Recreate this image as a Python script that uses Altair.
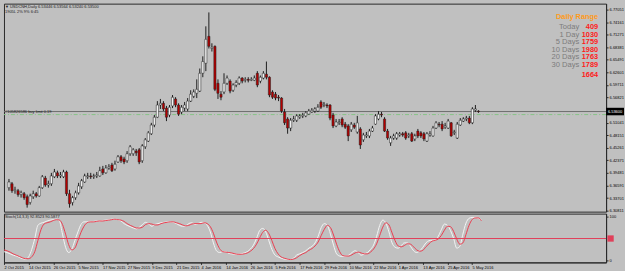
import altair as alt
import pandas as pd

# ---------------- data (USDCNH daily) ----------------
opens = [6.361, 6.370, 6.354, 6.354, 6.345, 6.347, 6.340, 6.327, 6.340, 6.347,
         6.342, 6.361, 6.383, 6.367, 6.370, 6.386, 6.395, 6.388, 6.386, 6.397,
         6.347, 6.327, 6.338, 6.349, 6.363, 6.374, 6.386, 6.388, 6.386, 6.388,
         6.388, 6.404, 6.395, 6.406, 6.413, 6.404, 6.420, 6.432, 6.427, 6.423,
         6.439, 6.439, 6.445, 6.448, 6.423, 6.455, 6.468, 6.485, 6.505, 6.523,
         6.551, 6.555, 6.544, 6.528, 6.549, 6.565, 6.551, 6.535, 6.544, 6.542,
         6.560, 6.571, 6.578, 6.583, 6.624, 6.647, 6.709, 6.681, 6.686, 6.601,
         6.576, 6.581, 6.601, 6.606, 6.585, 6.597, 6.601, 6.613, 6.608, 6.610,
         6.608, 6.608, 6.624, 6.606, 6.613, 6.622, 6.615, 6.581, 6.576, 6.569,
         6.567, 6.535, 6.519, 6.498, 6.516, 6.516, 6.523, 6.526, 6.526, 6.530,
         6.535, 6.537, 6.537, 6.558, 6.551, 6.551, 6.551, 6.528, 6.503, 6.510,
         6.519, 6.507, 6.503, 6.494, 6.505, 6.489, 6.496, 6.471, 6.480, 6.480,
         6.491, 6.507, 6.519, 6.530, 6.519, 6.491, 6.464, 6.475, 6.475, 6.482,
         6.485, 6.487, 6.480, 6.485, 6.473, 6.491, 6.487, 6.485, 6.468, 6.482,
         6.480, 6.498, 6.507, 6.507, 6.500, 6.498, 6.510, 6.487, 6.475, 6.505,
         6.514, 6.519, 6.521, 6.510, 6.539, 6.537]
highs = [6.381, 6.374, 6.363, 6.358, 6.354, 6.351, 6.345, 6.347, 6.354, 6.351,
         6.365, 6.390, 6.388, 6.377, 6.395, 6.404, 6.400, 6.397, 6.402, 6.400,
         6.356, 6.342, 6.354, 6.372, 6.381, 6.393, 6.395, 6.395, 6.393, 6.397,
         6.409, 6.411, 6.413, 6.415, 6.418, 6.423, 6.436, 6.436, 6.432, 6.445,
         6.459, 6.452, 6.450, 6.452, 6.461, 6.475, 6.491, 6.510, 6.528, 6.560,
         6.565, 6.560, 6.549, 6.551, 6.574, 6.569, 6.555, 6.551, 6.558, 6.567,
         6.585, 6.587, 6.610, 6.635, 6.663, 6.732, 6.764, 6.693, 6.688, 6.610,
         6.583, 6.624, 6.619, 6.610, 6.601, 6.608, 6.617, 6.615, 6.615, 6.615,
         6.615, 6.619, 6.629, 6.619, 6.629, 6.651, 6.617, 6.585, 6.581, 6.574,
         6.569, 6.542, 6.523, 6.521, 6.526, 6.530, 6.530, 6.533, 6.537, 6.542,
         6.544, 6.546, 6.553, 6.562, 6.558, 6.555, 6.553, 6.533, 6.519, 6.519,
         6.523, 6.512, 6.507, 6.512, 6.510, 6.526, 6.500, 6.487, 6.489, 6.496,
         6.503, 6.530, 6.537, 6.535, 6.523, 6.496, 6.480, 6.485, 6.489, 6.489,
         6.489, 6.491, 6.487, 6.489, 6.485, 6.496, 6.491, 6.489, 6.489, 6.491,
         6.503, 6.514, 6.512, 6.514, 6.510, 6.519, 6.512, 6.494, 6.512, 6.521,
         6.523, 6.526, 6.526, 6.546, 6.551, 6.539]
lows = [6.354, 6.349, 6.347, 6.340, 6.338, 6.333, 6.315, 6.322, 6.335, 6.338,
        6.340, 6.358, 6.363, 6.361, 6.365, 6.383, 6.383, 6.383, 6.383, 6.342,
        6.315, 6.320, 6.333, 6.345, 6.358, 6.372, 6.381, 6.381, 6.381, 6.383,
        6.386, 6.390, 6.393, 6.402, 6.397, 6.400, 6.418, 6.418, 6.415, 6.418,
        6.434, 6.434, 6.434, 6.415, 6.418, 6.450, 6.466, 6.482, 6.500, 6.521,
        6.542, 6.537, 6.514, 6.523, 6.544, 6.546, 6.526, 6.530, 6.537, 6.537,
        6.558, 6.567, 6.567, 6.581, 6.615, 6.629, 6.681, 6.674, 6.583, 6.565,
        6.562, 6.576, 6.597, 6.578, 6.581, 6.592, 6.597, 6.601, 6.603, 6.603,
        6.606, 6.606, 6.592, 6.601, 6.610, 6.610, 6.569, 6.565, 6.562, 6.560,
        6.533, 6.505, 6.485, 6.491, 6.512, 6.512, 6.519, 6.521, 6.523, 6.528,
        6.533, 6.533, 6.535, 6.542, 6.546, 6.544, 6.516, 6.498, 6.500, 6.505,
        6.500, 6.496, 6.468, 6.489, 6.496, 6.485, 6.450, 6.466, 6.475, 6.475,
        6.489, 6.505, 6.516, 6.523, 6.489, 6.471, 6.457, 6.471, 6.471, 6.478,
        6.478, 6.471, 6.475, 6.466, 6.468, 6.475, 6.475, 6.468, 6.466, 6.478,
        6.478, 6.496, 6.500, 6.491, 6.496, 6.496, 6.478, 6.482, 6.473, 6.503,
        6.512, 6.514, 6.507, 6.507, 6.535, 6.533]
closes = [6.374, 6.354, 6.356, 6.345, 6.349, 6.338, 6.322, 6.342, 6.347, 6.342,
          6.361, 6.386, 6.367, 6.370, 6.388, 6.397, 6.388, 6.390, 6.397, 6.347,
          6.324, 6.338, 6.349, 6.365, 6.377, 6.388, 6.388, 6.386, 6.388, 6.390,
          6.400, 6.395, 6.406, 6.409, 6.400, 6.415, 6.432, 6.423, 6.420, 6.439,
          6.455, 6.448, 6.441, 6.420, 6.457, 6.471, 6.487, 6.505, 6.523, 6.551,
          6.555, 6.542, 6.523, 6.546, 6.569, 6.551, 6.530, 6.546, 6.551, 6.560,
          6.576, 6.581, 6.587, 6.624, 6.651, 6.702, 6.686, 6.684, 6.587, 6.578,
          6.569, 6.601, 6.613, 6.583, 6.597, 6.603, 6.613, 6.606, 6.610, 6.608,
          6.610, 6.613, 6.597, 6.615, 6.624, 6.615, 6.574, 6.569, 6.567, 6.567,
          6.537, 6.510, 6.498, 6.516, 6.519, 6.526, 6.526, 6.528, 6.533, 6.537,
          6.539, 6.542, 6.546, 6.546, 6.553, 6.549, 6.521, 6.503, 6.512, 6.512,
          6.505, 6.500, 6.480, 6.507, 6.500, 6.510, 6.459, 6.482, 6.482, 6.491,
          6.498, 6.526, 6.530, 6.528, 6.491, 6.475, 6.475, 6.480, 6.485, 6.485,
          6.482, 6.475, 6.482, 6.468, 6.480, 6.480, 6.480, 6.473, 6.485, 6.485,
          6.498, 6.510, 6.505, 6.496, 6.503, 6.514, 6.480, 6.489, 6.507, 6.516,
          6.519, 6.521, 6.510, 6.542, 6.542, 6.536]

stoch_main = [20, 18, 15, 12, 10, 7, 4, 3, 8, 25,
              50, 80, 85, 87, 90, 92, 93, 94, 90, 60,
              30, 18, 25, 45, 65, 82, 88, 88, 89, 89,
              90, 90, 91, 92, 93, 94, 94, 93, 90, 84,
              80, 77, 74, 72, 76, 82, 87, 83, 78, 82,
              84, 86, 87, 88, 88, 87, 84, 80, 78, 79,
              84, 86, 82, 84, 87, 86, 80, 65, 40, 22,
              18, 20, 20, 16, 15, 14, 14, 15, 17, 20,
              26, 35, 50, 68, 73, 65, 45, 25, 12, 8,
              5, 3, 2, 2, 5, 12, 15, 18, 22, 28,
              32, 40, 55, 75, 84, 80, 60, 35, 15, 10,
              9, 10, 12, 18, 22, 18, 12, 15, 18, 25,
              35, 55, 80, 92, 85, 65, 40, 30, 28, 34,
              40, 40, 32, 22, 18, 22, 30, 40, 45, 46,
              47, 55, 70, 83, 80, 68, 50, 28, 32, 60,
              85, 96, 98, 98, 96, 92.85]
stoch_signal = [24, 22, 19, 15, 12, 9, 6, 4, 4, 8,
                20, 45, 70, 83, 86, 88, 91, 93, 92, 82,
                60, 36, 24, 28, 45, 64, 78, 86, 88, 88,
                89, 90, 90, 91, 92, 93, 94, 93, 92, 89,
                84, 80, 77, 74, 74, 76, 82, 84, 83, 81,
                81, 84, 86, 87, 88, 88, 86, 84, 81, 79,
                80, 83, 84, 84, 84, 86, 84, 77, 62, 42,
                27, 20, 19, 18, 17, 15, 14, 14, 15, 17,
                21, 27, 37, 51, 64, 69, 61, 45, 27, 15,
                8, 5, 3, 2, 3, 6, 11, 15, 18, 23,
                27, 33, 42, 57, 71, 80, 75, 58, 37, 20,
                11, 10, 10, 13, 17, 19, 17, 15, 15, 19,
                26, 38, 57, 76, 86, 81, 63, 45, 33, 31,
                34, 38, 37, 31, 24, 21, 23, 31, 38, 44,
                46, 49, 57, 69, 78, 77, 66, 49, 37, 40,
                59, 80, 93, 97, 97, 90.59]

x_tick_bars = [0, 8, 16, 24, 32, 40, 48, 56, 64, 72,
               80, 88, 96, 104, 112, 120, 128, 136, 144, 152]
x_tick_labels = ["2 Oct 2015", "14 Oct 2015", "26 Oct 2015", "5 Nov 2015", "17 Nov 2015",
                 "27 Nov 2015", "9 Dec 2015", "21 Dec 2015", "4 Jan 2016", "14 Jan 2016",
                 "26 Jan 2016", "5 Feb 2016", "17 Feb 2016", "29 Feb 2016", "10 Mar 2016",
                 "22 Mar 2016", "1 Apr 2016", "13 Apr 2016", "25 Apr 2016", "5 May 2016"]
price_ticks = [6.30811, 6.33701, 6.36591, 6.39481, 6.42371, 6.45261, 6.48151, 6.51041,
               6.56821, 6.59711, 6.62601, 6.65491, 6.68381, 6.71271, 6.74161, 6.77051]
stoch_ticks = [0, 100]
stoch_level = 50
bid_price = 6.536
buy_limit_price = 6.529

range_labels = ["Today", "1 Day", "5 Days", "10 Days", "20 Days", "30 Days"]
range_values = [409, 1030, 1759, 1980, 1763, 1789]
range_average = 1664

header_line1 = "\u25bc USDCNH,Daily  6.53446 6.53564 6.53240 6.53500"
header_line2 = "1905L    2%  9%    6:45"
order_text = "#105826586 buy limit 0.19"
stoch_title = "Stoch(14,3,3) 92.8523 90.5877"

# ---------------- frames ----------------
bars = list(range(len(closes)))
candles = pd.DataFrame({"bar": bars, "open": opens, "high": highs,
                        "low": lows, "close": closes})
candles["dir"] = ["up" if c >= o else "down" for o, c in zip(opens, closes)]
stoch = pd.DataFrame({"bar": bars, "main": stoch_main, "signal": stoch_signal})

# ---------------- styling ----------------
BG = "#c0c0c0"
FG = "#2a2a2a"
FONT = "Liberation Sans"
TINY = 4.0
W = 605
H_MAIN = 209
H_STOCH = 49

xscale = alt.Scale(domain=[0, 195.5], nice=False, zero=False)
yscale = alt.Scale(domain=[6.3058, 6.7842], nice=False, zero=False)
sscale = alt.Scale(domain=[-4.5, 106.8], nice=False, zero=False)

price_axis = alt.Axis(orient="right", values=price_ticks, format=".5f", title=None,
                      labelFontSize=TINY, labelColor="#000000", labelFont=FONT,
                      tickSize=2, tickColor=FG, domainColor=FG, labelPadding=1,
                      grid=False, labelOverlap=False, labelFlush=False)
stoch_axis = alt.Axis(orient="right", values=stoch_ticks, format="d", title=None,
                      labelFontSize=TINY, labelColor="#000000", labelFont=FONT,
                      tickSize=2, tickColor=FG, domainColor=FG, labelPadding=1,
                      grid=False, labelOverlap=False, labelFlush=False)
label_expr = "[" + ",".join("'%s'" % s for s in x_tick_labels) + "][round(datum.value/8)]"
time_axis = alt.Axis(values=x_tick_bars, labelExpr=label_expr, title=None,
                     labelAlign="left", labelFontSize=TINY, labelColor="#000000",
                     labelFont=FONT, tickSize=2, tickColor=FG, domainColor=FG,
                     labelPadding=1, grid=False, labelOverlap=False, labelFlush=False)


def note(text, x, y, **kw):
    return alt.Chart(pd.DataFrame({"t": [text]})).mark_text(font=FONT, **kw).encode(
        x=alt.value(x), y=alt.value(y), text="t:N")


# ---------------- main price panel ----------------
base = alt.Chart(candles)
wicks = base.mark_rule(color="#1e1e1e", strokeWidth=1, clip=True).encode(
    x=alt.X("bar:Q", scale=xscale, axis=None),
    y=alt.Y("low:Q", scale=yscale, axis=price_axis),
    y2="high:Q")
bodies = base.mark_bar(size=2.2, stroke="#1e1e1e", strokeWidth=0.5, clip=True).encode(
    x=alt.X("bar:Q", scale=xscale, axis=None),
    y=alt.Y("open:Q", scale=yscale, axis=price_axis),
    y2="close:Q",
    color=alt.Color("dir:N", scale=alt.Scale(domain=["up", "down"],
                                             range=["#f4f4f4", "#b40000"]), legend=None))

levels = pd.DataFrame({"p": [bid_price]})
bid_line = alt.Chart(levels).mark_rule(color="#6e6e6e", strokeWidth=1).encode(
    y=alt.Y("p:Q", scale=yscale, axis=price_axis))
order_df = pd.DataFrame({"p": [buy_limit_price], "t": [order_text]})
order_line = alt.Chart(order_df).mark_rule(color="#86c486", strokeWidth=1,
                                           strokeDash=[4, 2, 1, 2]).encode(
    y=alt.Y("p:Q", scale=yscale, axis=price_axis))
order_label = alt.Chart(order_df).mark_text(font=FONT, fontSize=TINY, align="left",
                                            baseline="middle", dy=-2.2,
                                            color="#1a1a1a").encode(
    x=alt.value(1), y=alt.Y("p:Q", scale=yscale, axis=price_axis), text="t:N")

bid_df = pd.DataFrame({"p": [bid_price], "t": ["%.5f" % bid_price]})
bid_box = alt.Chart(bid_df).mark_point(
    shape="M-1,-0.42L1,-0.42L1,0.42L-1,0.42Z", size=324, filled=True,
    color="#000000", opacity=1, strokeWidth=0).encode(
    x=alt.value(614), y=alt.Y("p:Q", scale=yscale, axis=price_axis))
bid_text = alt.Chart(bid_df).mark_text(font=FONT, fontSize=TINY, color="#ffffff",
                                       align="center", baseline="middle").encode(
    x=alt.value(614), y=alt.Y("p:Q", scale=yscale, axis=price_axis), text="t:N")

head1 = note(header_line1, 1, 3, fontSize=TINY, align="left", baseline="middle",
             color="#1a1a1a")
head2 = note(header_line2, 1, 8.5, fontSize=TINY, align="left", baseline="middle",
             color="#1a1a1a")

dr_title = note("Daily Range", 597, 15.7, fontSize=7.4, fontWeight="bold",
                align="right", baseline="alphabetic", color="#ff9a1a")
dr_labels = note("\n".join(range_labels), 578, 25.6, fontSize=7.6, lineBreak="\n",
                 lineHeight=7.55, align="right", baseline="alphabetic", color="#7c7c7c")
dr_values = note("\n".join(str(v) for v in range_values), 597, 25.6, fontSize=7.4,
                 fontWeight="bold", lineBreak="\n", lineHeight=7.55, align="right",
                 baseline="alphabetic", color="#ff1a1a")
dr_avg = note(str(range_average), 597, 74.2, fontSize=7.4, fontWeight="bold",
              align="right", baseline="alphabetic", color="#ff1a1a")

main = alt.layer(bid_line, order_line, wicks, bodies, order_label, bid_box, bid_text,
                 head1, head2, dr_title, dr_labels, dr_values, dr_avg).properties(
    width=W, height=H_MAIN)

# ---------------- stochastic panel ----------------
sbase = alt.Chart(stoch)
level_df = pd.DataFrame({"v": [stoch_level]})
level_line = alt.Chart(level_df).mark_rule(color="#e0405a", strokeWidth=1).encode(
    y=alt.Y("v:Q", scale=sscale, axis=stoch_axis))
level_box = alt.Chart(level_df).mark_point(shape="square", size=40, filled=True,
                                           color="#e0405a", opacity=1).encode(
    x=alt.value(609.5), y=alt.Y("v:Q", scale=sscale, axis=stoch_axis))
main_line = sbase.mark_line(color="#f4f4f4", strokeWidth=1, interpolate="monotone",
                            clip=True).encode(
    x=alt.X("bar:Q", scale=xscale, axis=time_axis),
    y=alt.Y("main:Q", scale=sscale, axis=stoch_axis))
signal_line = sbase.mark_line(color="#ea3d50", strokeWidth=1, interpolate="monotone",
                              clip=True).encode(
    x=alt.X("bar:Q", scale=xscale, axis=time_axis),
    y=alt.Y("signal:Q", scale=sscale, axis=stoch_axis))
stoch_label = note(stoch_title, 1, 3.5, fontSize=TINY, align="left", baseline="middle",
                   color="#1a1a1a")

lower = alt.layer(main_line, level_line, signal_line, level_box, stoch_label).properties(
    width=W, height=H_STOCH)

chart = alt.vconcat(main, lower, spacing=2, bounds="flush").properties(
    padding={"left": 3, "top": 2, "right": 0, "bottom": 0},
    background=BG,
).configure_view(stroke=FG, strokeWidth=1).configure_axis(labelFont=FONT)

chart.save("out.html", embed_options={"renderer": "svg", "actions": False})
